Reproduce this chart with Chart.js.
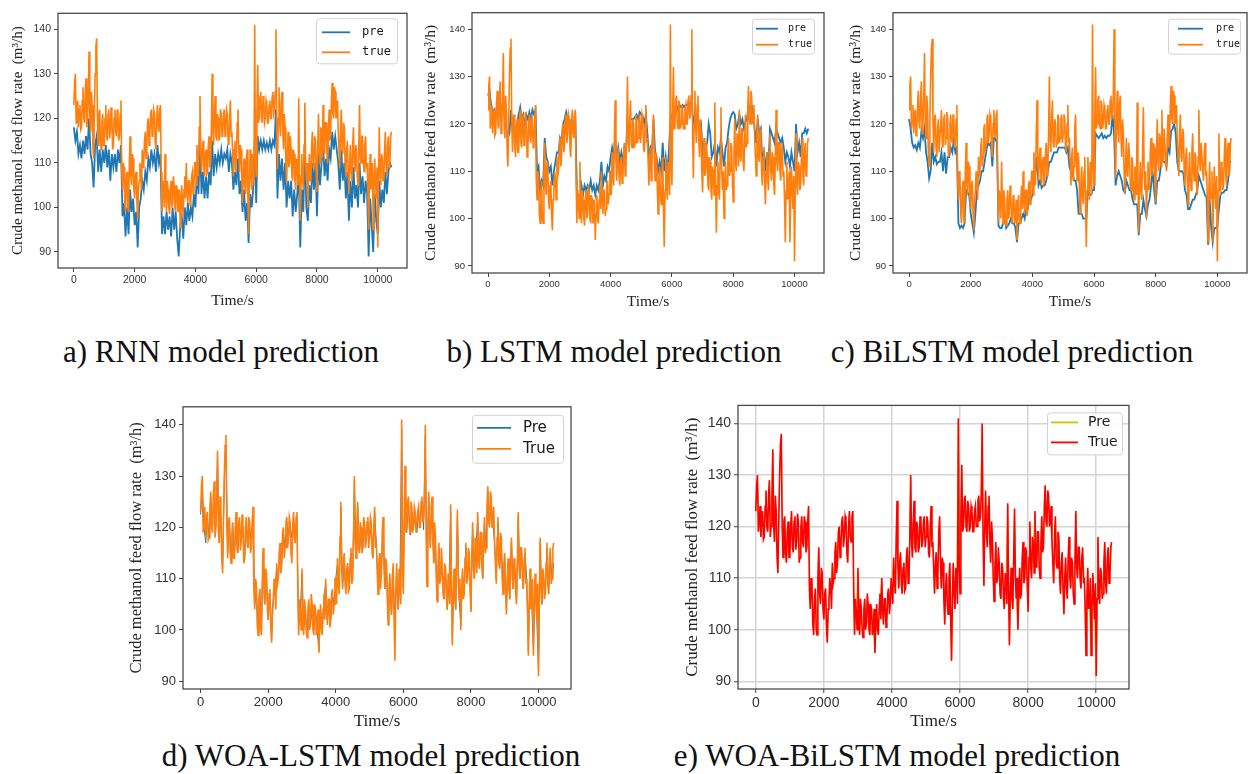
<!DOCTYPE html>
<html>
<head>
<meta charset="utf-8">
<script src="https://cdn.jsdelivr.net/npm/chart.js@4.4.0/dist/chart.umd.min.js"></script>
<style>
  body{margin:0;background:#fff;width:1252px;height:774px;position:relative;overflow:hidden}
  canvas{position:absolute}
  .cap{position:absolute;font-family:"Liberation Serif","Times New Roman",serif;font-size:31px;color:#111;white-space:nowrap;transform:translateX(-50%);line-height:1}
</style>
</head>
<body>
<div class="cap" style="left:221px;top:336px">a) RNN model prediction</div>
<div class="cap" style="left:614px;top:336px">b) LSTM model prediction</div>
<div class="cap" style="left:1012px;top:336px">c) BiLSTM model prediction</div>
<div class="cap" style="left:371px;top:740px">d) WOA-LSTM model prediction</div>
<div class="cap" style="left:897px;top:740px">e) WOA-BiLSTM model prediction</div>
<script>
// tick labels
const X_TICKS = [0, 2000, 4000, 6000, 8000, 10000];
const Y_TICKS = [90, 100, 110, 120, 130, 140];

const STEP_TRUE = 25;
const trueFlow = [
  123,128,130,119,121,124,118,122,123,117.5,118,124,127,120,119,126,129,118,120,125,
  135,120,117,126,123,114,111,121,130,136,138,120,114,121,122,115,113,119,121,114,
  114,120,123,116,115,121,122,115.5,117,122.5,121,113,114,120,122,117,116,122,121,115,
  116,121,124,108,104,110,109,101,99,106,108,100,99,110,116,107,105,112,111,104,
  102,107,108,101,97.5,104,106,110,108,104,113,109,110,115,117,111,113,119,120,114,
  116,121,122,116,118,122,121,115,113,120,123,118,117,122,123,108,99,106,104,100,
  112,104,99,106,104,100,98.5,104,106,100,101,107,105,100,99,105,104,99,100,104,
  95.5,101,105,100,99,104,107,102,110,104,101,106,106,100.5,102,107,108,103,105,110,
  110,105,114,109,107,118,125,112,108,113,115,109,107,112,113,107.5,108,114,116,109,
  110,118,130,117,114,121,125,116,115,121,120,115,116,122,121,116,117,121,122,116,
  118,122,121,115,114,120,124,116,117,112,107,113,115,108,111,119,122,113,108,114,
  113,106,101,108,111,105,103,110,113,102,94,106,113,107,104,112,110,105,141,112,
  107,122,132,119,120,125,126,120,119,125,124,119,120,124,123,119,119,123,124,120,
  120,125,126,121,122,126,140,118,108.5,120,127,119,116,124,126,117,113,121,118,110,
  105.5,112,117,109,110,116,113,107,106,113,112,106,104,111,110,105,124.5,108,97,107,
  112,106,104,114,123.5,110,106,110,100,107,112,106,107,114,117,109,110,116,115,108,
  103.5,114,121,112,110,118,117,111,123,114,112,119,119,112,110,117,122,115,116,124,
  128,121,120,127,126,120,121,124,117,113,109,118,122,113,112,119,118,110,107,113,
  115,108,103,110,114,108,106,114,118,110,108,114,113,107,105,113,123,112,110,116,
  116,110,108,114,116,109,110,104,95,106,112,104,105,110,95,104,111,106,102,109,
  91,106,118,108,105,112,111,106,107,113,117,109,107,114,116,109,110,116,117
];

// predictions, one value every 50 s
const STEP_PRE = 50;

// a) RNN
const preRnn = [
  118,115,117,112,114,111,115,112,116,113,
  120,112,110,104.5,114,116,108,113,108,113,
  110,114,109,113,106,112,109,112,108,113,
  110,114,98,101,93.5,100,94,104,99,102,
  96,99,91,100,102,106,104,108,106,111,
  109,113,110,112,108,114,110,112,94,98,
  94,99,95,98,93.5,100,95,99,93,89,
  96,98,93,100,96,101,97,100,98,103,
  100,108,103,115,103,108,102,107,102,108,
  105,115,107,112,109,112,110,113,110,112,
  111,113,108,112,110,104,108,105,111,103,
  106,99,104,97,101,92,103,100,104,115,
  101,116,113,115,113,115,113,114.5,113,115,
  113,115,114,122,102,112,106,111,104,110,
  100,106,102,106,98,104,99,103,107,91,
  104,99,114,100,97,105,101,110,104,110,
  98,112,105,110,114,107,111,106,113,111,
  117,113,116,113,110,104,113,106,110,102,
  108,97,106,100,109,102,105,100,110,103,
  107,101,106,103,89,102,96,90,103,97,
  94,106,100,104,101,108,103,108,110,109
];

// b) LSTM
const preLstm = [
  126,127,124,122,123,122,124,122,124,123,
  125,121,119,117,118,123,119,120,118,120,
  122,123.5,121,122,120,122,121,122.5,121,123,
  122,123,110,111,106,108,107,117,113,112,
  110,111,107,110,112,114,114,117,116,120,
  121,122.5,121,121,118,121,120,121,106,104,
  104,107,105,107,106,107,106,108,106,107,
  105,107,106,108,112,107,109,108,111,110,
  113,115,113,117,113,115,112,114,112,115,
  114,120,119,121,121,121,121.5,122,121,122.5,
  122,121.5,120,122,118,113,115,114,121,114,
  113,110,112,110,116,110,113,110,114,121,
  121.5,123,123,124,123,124,123.5,124,123.5,124,
  124,124.5,124,125,119,122,120,121,119,120,
  114,116,115,116,120,118,113,114,116,111,
  115,114,117,114,111,115,116,119,121,122,
  122.5,122,119,120,122,120,121,119,120.5,121,
  124,123,124,122,119,116,121,118,119,112,
  114,110,114,111,119,118,117,116,119,118,
  117,116,117,115,112,114,113,111,114,112,
  110,120,114,116,113,118,118,119,118,119
];

// c) BiLSTM
const preBiLstm = [
  121,119,116,115,115.5,114.5,116,115,118.5,117,
  119,114,112,108.5,110,116,112,113,111.5,112,
  112,114,110,114,109.5,113,113,115,114,116.5,
  114,115,99,98,98.5,98,99,106,105.5,105,
  101,99,97,101,106,107,108,110,110,112,
  114,116,115.5,116,111,117,117,116,98.5,98,
  98,99,100,98,98.5,99,100,99,99,98,
  95,99,99,100,101,100,102,102,104.5,104,
  105,108,109.5,113,107,108,106.5,107,107,108,
  110,112,112,113,114,114,114,115,115,115,
  115,115,114,115,111,110,110,108,108,106,
  101,101,101,100,100,100,106,105,105,106,
  106,118,117.5,117,117.5,118,117,117.5,117,117.5,
  117.5,118,122,118,107,109,110,109,108,106,
  105.5,108,107,106,106,104,103,103,103,96.5,
  101,101,104,102,100.5,103,104,107,110,106,
  103,108,108,110,114,112,112,111,115,114,
  118.5,119,120,118,112,110,110,110,109.5,106,
  105,102,102,103,104,104,105,106,109,108,
  107,106,105,104.5,94.5,104,98,95,98,98,
  98.5,102,105,105.5,105.5,106,106,108,112,112
];

// d) WOA-LSTM
const preWoaLstm = [
  122.5,128,120,117,122,118,126,120,128,120,
  134,117,122,112,129,136,115,121,114,120,
  114,122,115,121,117,120,113.5,121,116,120,
  117,123,105,108,100,108,100,115,105,110,
  102,107,98,106,108,112,110,116,113,119,
  116,121,118,120,118,122,117,122,100,104,
  111,100,104,99,105,101,104,100,104,100,
  96,104,100,106,109,102,106,102,107,105,
  110,113,108,124,108,114,108,113,108,115,
  111,129,114,124,115,119,116,120,117,121,
  118,120,114,123,117,108,115,111,121,108,
  113,102,110,103,112,100,112,104,110,139,
  108,131,119,125,118.5,123,120,122,119,123,
  120,125,119.5,138,109,126,116,125,113,117,
  106,116,110,112,106,111,104,109,123,98,
  111,104,122,106,101,111,107,116,110,114,
  104,120,110,116,122,112,118,110,121,116,
  127,120.5,125,121,117,110,121,112,117,108,
  114,104,113,106,117,108,112,106,122,110,
  115,108,115,110,96,111,105,96,110,102,
  92,117,105,110,107,116,107,115,110,113
];

// e) WOA-BiLSTM
const preWoaBiLstm = [
  123,129,121,118,122.5,118,126.5,119,128.5,120,
  134.5,117,122.5,111,129.5,137.5,114,121.5,113,120.5,
  114,122.5,115,121.5,117,120.5,114,121.5,116,120.5,
  116,123.5,104,109,99,108,99,115.5,105,110.5,
  102,108,97.5,106,108,112.5,110,116.5,113,119.5,
  116,121.5,118,120.5,113,122.5,117,122.5,99,104,
  111.5,99,104,98.5,105.5,101,105,99,104,100,
  95.5,104.5,99,106.5,109.5,101,106,102,107.5,105,
  110,113.5,107,124.5,108,114.5,107,113,108,115.5,
  110,129.5,114,124.5,115,119.5,116,120.5,117,121.5,
  118,120.5,114,123.5,117,107,115,111,121.5,108,
  113,101,111,103,112.5,94,112.5,104,110,140.5,
  107,131.5,120,125.5,119,123.5,120,122.5,119,123.5,
  120,125.5,122,139.5,108.5,126.5,116,125.5,113,118,
  105.5,116.5,110,113,106,112,104,110,124,97,
  112,104,123,106,100,112,107,116.5,110,115,
  103.5,120.5,110,116.5,122.5,112,118.5,110,121.5,116,
  127.5,120,125.5,121,117,109,121.5,112,117.5,107,
  115,103,113.5,106,117.5,108,113,105,122.5,110,
  115.5,108,115.5,110,95,111.5,105,95,110.5,102,
  91,117.5,105,111,107,116.5,107,115.5,110,116.5
];

const Y_TITLE = "Crude methanol feed flow rate  (m\u00b3/h)";
const toXY = (vals, step) => vals.map((v, i) => ({ x: i * step, y: v }));

// box around the axes, like matplotlib spines
const frame = {
  id: 'frame',
  afterDatasetsDraw(chart) {
    const { ctx, chartArea: a } = chart;
    ctx.save();
    ctx.strokeStyle = '#4a4a4a';
    ctx.lineWidth = 1.3;
    ctx.strokeRect(a.left, a.top, a.right - a.left, a.bottom - a.top);
    ctx.restore();
  }
};

// legend drawn inside the upper right corner
const boxLegend = {
  id: 'boxLegend',
  afterDraw(chart, args, o) {
    const { ctx, chartArea: a } = chart;
    const bx = a.right - o.right - o.w, by = a.top + o.top;
    ctx.save();
    ctx.fillStyle = 'rgba(255,255,255,0.9)';
    ctx.strokeStyle = '#d2d2d2';
    ctx.lineWidth = 1;
    ctx.beginPath();
    ctx.roundRect(bx + 0.5, by + 0.5, o.w, o.h, 3);
    ctx.fill(); ctx.stroke();
    o.items.forEach((it, i) => {
      const y = by + o.rows[i];
      ctx.strokeStyle = it.color;
      ctx.lineWidth = 1.8;
      ctx.beginPath(); ctx.moveTo(bx + o.lx, y); ctx.lineTo(bx + o.lx + o.len, y); ctx.stroke();
      ctx.fillStyle = '#1a1a1a';
      ctx.font = o.font;
      ctx.textBaseline = 'middle';
      ctx.fillText(it.text, bx + o.tx, y);
    });
    ctx.restore();
  }
};

const panels = [
  { pre: preRnn, preW: 1.8, names: ['pre', 'true'], colors: ['#1f77b4', '#ff7f0e'],
    left: 0, top: 4, w: 412, h: 309, yW: 58, yMin: 86.4, yMax: 143.6, tick: 10.5,
    yt: 15, ytPad: 9, xt: 15.5, xtPad: 2.6, grid: false,
    legend: { right: 10, top: 5, w: 81, h: 45, rows: [14, 34], lx: 6, len: 28, tx: 46, font: '12px "DejaVu Sans Mono"' } },
  { pre: preLstm, preW: 1.8, names: ['pre', 'true'], colors: ['#1f77b4', '#ff7f0e'],
    left: 415, top: 4, w: 414, h: 314, yW: 57, yMin: 88.5, yMax: 143.5, tick: 9.5,
    yt: 15.5, ytPad: 6.2, xt: 15.5, xtPad: 6.7, grid: false,
    legend: { right: 10, top: 6, w: 62, h: 35, rows: [10, 26], lx: 4, len: 22, tx: 36, font: '10px "DejaVu Sans Mono"' } },
  { pre: preBiLstm, preW: 1.8, names: ['pre', 'true'], colors: ['#1f77b4', '#ff7f0e'],
    left: 838, top: 4, w: 414, h: 314, yW: 55, yMin: 88.5, yMax: 143.5, tick: 9.5,
    yt: 15.5, ytPad: 8.7, xt: 15.5, xtPad: 6.7, grid: false,
    legend: { right: 7, top: 6, w: 72, h: 35, rows: [10, 26], lx: 10, len: 25, tx: 48, font: '10px "DejaVu Sans Mono"' } },
  { pre: preWoaLstm, preW: 1, names: ['Pre', 'True'], colors: ['#1f77b4', '#ff7f0e'],
    left: 120, top: 396, w: 456, h: 338, yW: 63, yMin: 88.5, yMax: 143.5, tick: 13,
    yt: 16.5, ytPad: 7.1, xt: 17, xtPad: 1.8, grid: false,
    legend: { right: 8, top: 8, w: 91, h: 48, rows: [13, 34], lx: 5, len: 34, tx: 51, font: '15px "DejaVu Sans"' } },
  { pre: preWoaBiLstm, preW: 1, names: ['Pre', 'True'], colors: ['#d6c000', '#ff0000'],
    left: 675, top: 394, w: 459, h: 340, yW: 63, yMin: 88.5, yMax: 143.5, tick: 14,
    yt: 17, ytPad: 7.3, xt: 17, xtPad: 1.8, grid: true,
    legend: { right: 7, top: 7, w: 75, h: 42, rows: [10, 30], lx: 4, len: 27, tx: 41, font: '14px "DejaVu Sans"' } }
];

panels.forEach(p => {
  const cv = document.createElement('canvas');
  cv.width = p.w; cv.height = p.h;
  cv.style.left = p.left + 'px'; cv.style.top = p.top + 'px';
  document.body.appendChild(cv);

  const tickFont = { family: '"Liberation Sans", Arial, sans-serif', size: p.tick };
  const gridCfg = p.grid
    ? { display: true, drawOnChartArea: true, color: '#d4d4d4', lineWidth: 1.5, tickLength: 4, tickColor: '#444', tickWidth: 1 }
    : { display: true, drawOnChartArea: false, color: '#444', tickLength: 4, tickWidth: 1 };

  new Chart(cv, {
    type: 'line',
    data: {
      datasets: [
        { label: p.names[1], data: toXY(trueFlow, STEP_TRUE), borderColor: p.colors[1], borderWidth: 1.6, order: 0 },
        { label: p.names[0], data: toXY(p.pre, STEP_PRE), borderColor: p.colors[0], borderWidth: p.preW, order: 1 }
      ]
    },
    options: {
      responsive: false,
      animation: false,
      events: [],
      layout: { padding: { top: 5, right: 5, left: 0, bottom: 0 } },
      elements: { point: { radius: 0 }, line: { tension: 0 } },
      plugins: {
        legend: { display: false },
        tooltip: { enabled: false },
        boxLegend: Object.assign({}, p.legend, {
          items: [{ text: p.names[0], color: p.colors[0] }, { text: p.names[1], color: p.colors[1] }]
        })
      },
      scales: {
        x: {
          type: 'linear', min: -522, max: 10962,
          afterBuildTicks: s => { s.ticks = X_TICKS.map(v => ({ value: v })); },
          afterFit: s => { s.height = 45; },
          ticks: { font: tickFont, color: '#333', maxRotation: 0, padding: 2, callback: v => String(v) },
          grid: gridCfg,
          border: { display: false },
          title: { display: true, text: 'Time/s', color: '#222',
            font: { family: '"Liberation Serif", serif', size: p.xt },
            padding: { top: 0, bottom: p.xtPad } }
        },
        y: {
          type: 'linear', min: p.yMin, max: p.yMax,
          afterBuildTicks: s => { s.ticks = Y_TICKS.map(v => ({ value: v })); },
          afterFit: s => { s.width = p.yW; },
          ticks: { font: tickFont, color: '#333', padding: 3, callback: v => String(v) },
          grid: gridCfg,
          border: { display: false },
          title: { display: true, text: Y_TITLE, color: '#222',
            font: { family: '"Liberation Serif", serif', size: p.yt },
            padding: { top: p.ytPad, bottom: 0 } }
        }
      }
    },
    plugins: [frame, boxLegend]
  });
});
</script>
</body>
</html>
